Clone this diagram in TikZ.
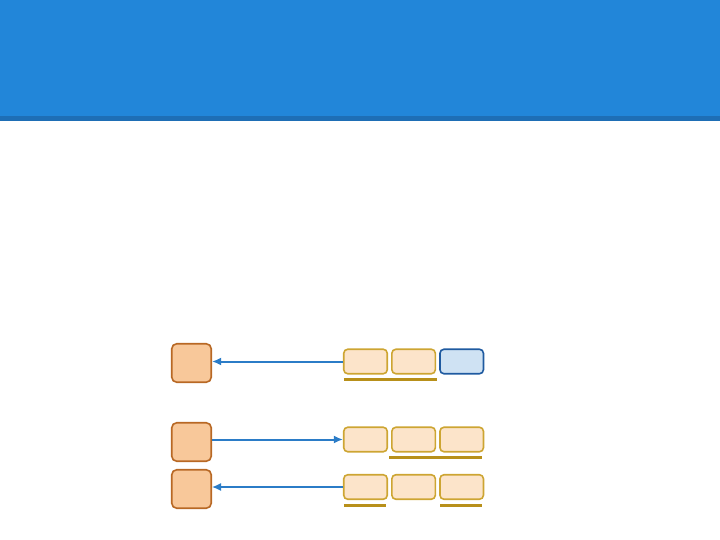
\documentclass[tikz,border=0pt]{standalone}
\usepackage{xcolor}
\usetikzlibrary{arrows.meta, calc, positioning}
\definecolor{headblue}{RGB}{34,134,217}
\definecolor{headdark}{RGB}{30,110,181}
\definecolor{sqfill}{RGB}{248,200,154}
\definecolor{sqline}{RGB}{184,104,36}
\definecolor{cellfill}{RGB}{252,228,202}
\definecolor{cellline}{RGB}{205,165,50}
\definecolor{markgold}{RGB}{184,144,26}
\definecolor{hitfill}{RGB}{207,226,243}
\definecolor{hitline}{RGB}{31,90,160}
\definecolor{linkblue}{RGB}{43,124,199}

\begin{document}
\begin{tikzpicture}[x=1pt, y=-1pt,
    sq/.style={draw=sqline, fill=sqfill, line width=1.6pt, rounded corners=5pt,
        minimum width=39.5pt, minimum height=38.5pt, inner sep=0pt},
    cell/.style={draw=cellline, fill=cellfill, line width=1.6pt, rounded corners=4pt,
        minimum width=43.5pt, minimum height=24.5pt, inner sep=0pt},
    hit/.style={cell, draw=hitline, fill=hitfill},
    underbar/.style={draw=markgold, line width=3pt},
    pointer/.style={draw=linkblue, line width=2pt, -{Latex[length=9pt, width=8pt]}}]
    \useasboundingbox (0,0) rectangle (720,540);

    % title bar
    \fill[headblue] (0,0) rectangle (720,116);
    \fill[headdark] (0,116) rectangle (720,121);

    % left squares
    \node[sq] (s1) at (191.5,363) {};
    \node[sq] (s2) at (191.5,442) {};
    \node[sq] (s3) at (191.5,489) {};

    % first row
    \node[cell] (a1) at (365.5,361.5) {};
    \node[cell, right=3pt of a1] (a2) {};
    \node[hit, right=3pt of a2] (a3) {};
    \draw[underbar] ($(a1.south west)+(1,5)$) -- ($(a2.south east)+(1,5)$);
    \draw[pointer] (a1.west) -- (a1.west -| s1.east);

    % second row
    \node[cell] (b1) at (365.5,439.5) {};
    \node[cell, right=3pt of b1] (b2) {};
    \node[cell, right=3pt of b2] (b3) {};
    \draw[underbar] ($(b2.south west)+(-2,5)$) -- ($(b3.south east)+(-2,5)$);
    \draw[pointer] (b1.west -| s2.east) -- (b1.west);

    % third row
    \node[cell] (c1) at (365.5,487) {};
    \node[cell, right=3pt of c1] (c2) {};
    \node[cell, right=3pt of c2] (c3) {};
    \draw[underbar] ($(c1.south west)+(1,5)$) -- ($(c1.south east)+(-2,5)$);
    \draw[underbar] ($(c3.south west)+(1,5)$) -- ($(c3.south east)+(-2,5)$);
    \draw[pointer, line width=1.2pt] (c1.west) -- (c1.west -| s3.east);
\end{tikzpicture}
\end{document}
